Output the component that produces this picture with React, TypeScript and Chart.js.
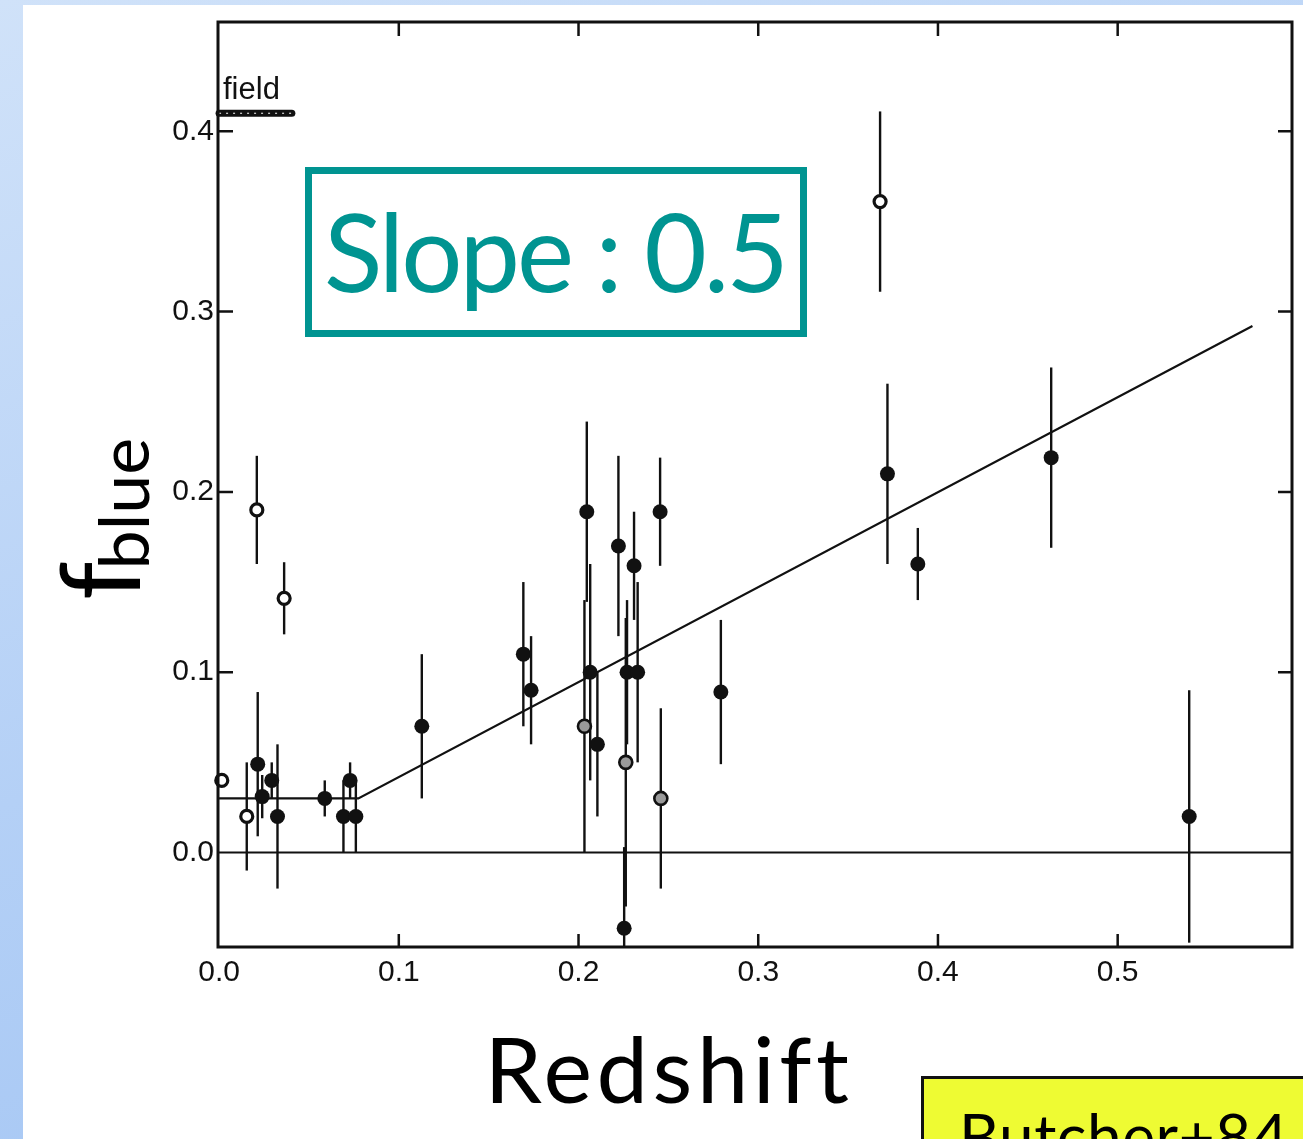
import React, { useEffect, useRef } from "react";
import { Chart, registerables } from "chart.js";

Chart.register(...registerables);

// Blue fraction of cluster galaxies against redshift (Butcher & Oemler 1984)
const filledZ = [0.0215, 0.024, 0.0293, 0.0325, 0.0588, 0.0692, 0.0729, 0.0761, 0.1128, 0.1693, 0.1736, 0.2046, 0.2065, 0.2105, 0.2222, 0.2254, 0.227, 0.2309, 0.2329, 0.2454, 0.2792, 0.3719, 0.3888, 0.463, 0.5398];
const filledF = [0.049, 0.031, 0.04, 0.02, 0.03, 0.02, 0.04, 0.02, 0.07, 0.11, 0.09, 0.189, 0.1, 0.06, 0.17, -0.042, 0.1, 0.159, 0.1, 0.189, 0.089, 0.21, 0.16, 0.219, 0.02];
const filledErr = [0.04, 0.012, 0.01, 0.04, 0.01, 0.02, 0.01, 0.02, 0.04, 0.04, 0.03, 0.05, 0.06, 0.04, 0.05, 0.045, 0.04, 0.03, 0.05, 0.03, 0.04, 0.05, 0.02, 0.05, 0.07];

const openZ = [0.0015, 0.0154, 0.021, 0.0362, 0.3678];
const openF = [0.04, 0.02, 0.19, 0.141, 0.361];
const openErr = [0, 0.03, 0.03, 0.02, 0.05];

const mixedZ = [0.2033, 0.2263, 0.2458];
const mixedF = [0.07, 0.05, 0.03];
const mixedErr = [0.07, 0.08, 0.05];

// Broken-line fit: flat, then rising with slope ~0.5
const fitZ = [0, 0.0775, 0.575];
const fitF = [0.03, 0.03, 0.292];

// Field value marker
const fieldZ = [0, 0.0405];
const fieldF = [0.41, 0.41];

const zeroZ = [-0.0006, 0.597];
const zeroF = [0, 0];

const xTickValues = [0, 0.1, 0.2, 0.3, 0.4, 0.5];
const yTickValues = [0, 0.1, 0.2, 0.3, 0.4];

const X_MIN = -0.0006;
const X_MAX = 0.597;
const Y_MIN = -0.0524;
const Y_MAX = 0.4606;

const INK = "#111111";
const TEAL = "#009491";

const pts = (xs: number[], ys: number[]) => xs.map((x, i) => ({ x, y: ys[i] }));

const errorBars = {
  id: "errorBars",
  beforeDatasetsDraw(chart: any) {
    const { ctx, chartArea, scales } = chart;
    const xs = scales.x;
    const ys = scales.y;
    ctx.save();
    ctx.beginPath();
    ctx.rect(chartArea.left, chartArea.top, chartArea.right - chartArea.left, chartArea.bottom - chartArea.top);
    ctx.clip();
    ctx.strokeStyle = INK;
    ctx.lineWidth = 2.4;
    const groups: [number[], number[], number[]][] = [
      [filledZ, filledF, filledErr],
      [openZ, openF, openErr],
      [mixedZ, mixedF, mixedErr],
    ];
    for (const [zs, fs, es] of groups) {
      zs.forEach((z, i) => {
        if (!es[i]) return;
        const px = xs.getPixelForValue(z);
        ctx.beginPath();
        ctx.moveTo(px, ys.getPixelForValue(fs[i] + es[i]));
        ctx.lineTo(px, ys.getPixelForValue(fs[i] - es[i]));
        ctx.stroke();
      });
    }
    ctx.restore();
  },
};

const frame = {
  id: "frame",
  afterDraw(chart: any) {
    const { ctx, chartArea, scales } = chart;
    const { left, right, top, bottom } = chartArea;
    ctx.save();
    ctx.strokeStyle = INK;
    ctx.lineWidth = 2.5;
    xTickValues.forEach((v) => {
      if (v === 0) return;
      const px = scales.x.getPixelForValue(v);
      ctx.beginPath();
      ctx.moveTo(px, bottom);
      ctx.lineTo(px, bottom - 13);
      ctx.moveTo(px, top);
      ctx.lineTo(px, top + 14);
      ctx.stroke();
    });
    yTickValues.forEach((v) => {
      if (v === 0) return;
      const py = scales.y.getPixelForValue(v);
      ctx.beginPath();
      ctx.moveTo(left, py);
      ctx.lineTo(left + 15, py);
      ctx.moveTo(right, py);
      ctx.lineTo(right - 14, py);
      ctx.stroke();
    });
    ctx.lineWidth = 3;
    ctx.strokeRect(left, top, right - left, bottom - top);
    ctx.restore();
  },
};

function RedshiftChart() {
  const ref = useRef<HTMLCanvasElement | null>(null);

  useEffect(() => {
    if (!ref.current) return;
    const chart = new Chart(ref.current, {
      type: "scatter",
      data: {
        datasets: [
          {
            label: "filled",
            data: pts(filledZ, filledF),
            pointRadius: 7.5,
            pointHoverRadius: 7.5,
            backgroundColor: INK,
            borderColor: INK,
            borderWidth: 0,
            order: 1,
          },
          {
            label: "open",
            data: pts(openZ, openF),
            pointRadius: 6,
            pointHoverRadius: 6,
            backgroundColor: "#ffffff",
            borderColor: INK,
            borderWidth: 3.2,
            clip: false,
            order: 1,
          },
          {
            label: "mixed",
            data: pts(mixedZ, mixedF),
            pointRadius: 6.5,
            pointHoverRadius: 6.5,
            backgroundColor: "#9a9a9a",
            borderColor: INK,
            borderWidth: 2.6,
            order: 1,
          },
          {
            label: "fit",
            data: pts(fitZ, fitF),
            showLine: true,
            pointRadius: 0,
            borderColor: INK,
            borderWidth: 2.2,
            order: 2,
          },
          {
            label: "zero",
            data: pts(zeroZ, zeroF),
            showLine: true,
            pointRadius: 0,
            borderColor: INK,
            borderWidth: 2.2,
            order: 3,
          },
          {
            label: "field hatch",
            data: pts(fieldZ, fieldF),
            showLine: true,
            pointRadius: 0,
            borderColor: "#ffffff",
            borderWidth: 1,
            borderDash: [2, 5],
            clip: false,
            order: 4,
          },
          {
            label: "field",
            data: pts(fieldZ, fieldF),
            showLine: true,
            pointRadius: 0,
            borderColor: INK,
            borderWidth: 7,
            borderCapStyle: "round",
            clip: false,
            order: 5,
          },
        ],
      },
      options: {
        animation: false,
        responsive: false,
        maintainAspectRatio: false,
        devicePixelRatio: 1,
        events: [],
        layout: { padding: { left: 0, top: 17, right: 11, bottom: 0 } },
        plugins: { legend: { display: false }, tooltip: { enabled: false } },
        scales: {
          x: {
            type: "linear",
            min: X_MIN,
            max: X_MAX,
            grid: { display: false, drawTicks: false },
            border: { display: false },
            afterBuildTicks: (s: any) => {
              s.ticks = xTickValues.map((v) => ({ value: v }));
            },
            afterFit: (s: any) => {
              s.height = 192;
            },
            ticks: {
              color: INK,
              padding: 8,
              maxRotation: 0,
              font: { family: "'Liberation Sans', Arial, sans-serif", size: 30 },
              callback: (v: any) => Number(v).toFixed(1),
            },
          },
          y: {
            type: "linear",
            min: Y_MIN,
            max: Y_MAX,
            grid: { display: false, drawTicks: false },
            border: { display: false },
            afterBuildTicks: (s: any) => {
              s.ticks = yTickValues.map((v) => ({ value: v }));
            },
            afterFit: (s: any) => {
              s.width = 218;
            },
            ticks: {
              color: INK,
              padding: 4,
              font: { family: "'Liberation Sans', Arial, sans-serif", size: 30 },
              callback: (v: any) => Number(v).toFixed(1),
            },
          },
        },
      },
      plugins: [errorBars, frame],
    });
    return () => chart.destroy();
  }, []);

  return (
    <canvas
      ref={ref}
      width={1303}
      height={1139}
      style={{ position: "absolute", left: 0, top: 0, width: 1303, height: 1139 }}
    />
  );
}

export default function App() {
  const sans = "Lato, 'Noto Sans', sans-serif";
  return (
    <div
      style={{
        position: "fixed",
        left: 0,
        top: 0,
        width: 1303,
        height: 1139,
        overflow: "hidden",
        background: "linear-gradient(160deg, #d0e2f9 0%, #b4d0f6 50%, #9ec2f3 100%)",
      }}
    >
      <div style={{ position: "absolute", left: 23, top: 5, right: 0, bottom: 0, background: "#ffffff" }} />
      <RedshiftChart />

      <div
        style={{
          position: "absolute",
          left: 223,
          top: 73,
          fontFamily: "'Liberation Sans', Arial, sans-serif",
          fontSize: 31,
          lineHeight: 1,
          color: INK,
          whiteSpace: "nowrap",
        }}
      >
        field
      </div>

      <div
        style={{
          position: "absolute",
          left: 305,
          top: 167,
          width: 502,
          height: 170,
          boxSizing: "border-box",
          border: `7px solid ${TEAL}`,
        }}
      />
      <div
        style={{
          position: "absolute",
          left: 305,
          width: 502,
          top: 196,
          textAlign: "center",
          fontFamily: sans,
          fontSize: 108,
          letterSpacing: -3,
          textIndent: -2,
          lineHeight: 1,
          color: TEAL,
          whiteSpace: "nowrap",
        }}
      >
        Slope : 0.5
      </div>

      <div
        style={{
          position: "absolute",
          left: 138,
          top: 600 - 96,
          transformOrigin: "0 96px",
          transform: "rotate(-90deg)",
          fontFamily: sans,
          fontSize: 110,
          lineHeight: 1,
          color: "#000",
          whiteSpace: "nowrap",
        }}
      >
        f
        <span style={{ fontSize: 70, position: "relative", top: 9, marginLeft: -8 }}>blue</span>
      </div>

      <div
        style={{
          position: "absolute",
          left: 367,
          width: 600,
          top: 1022,
          textAlign: "center",
          fontFamily: sans,
          fontSize: 92,
          letterSpacing: 4.5,
          textIndent: 4,
          lineHeight: 1,
          color: "#000",
          whiteSpace: "nowrap",
        }}
      >
        Redshift
      </div>

      <div
        style={{
          position: "absolute",
          left: 921,
          top: 1076,
          width: 420,
          height: 120,
          boxSizing: "border-box",
          border: "3px solid #111",
          background: "#eefb33",
        }}
      />
      <div
        style={{
          position: "absolute",
          left: 959,
          top: 1104,
          fontFamily: sans,
          fontSize: 62,
          letterSpacing: 0.6,
          lineHeight: 1,
          color: "#000",
          whiteSpace: "nowrap",
        }}
      >
        Butcher+84
      </div>
    </div>
  );
}
